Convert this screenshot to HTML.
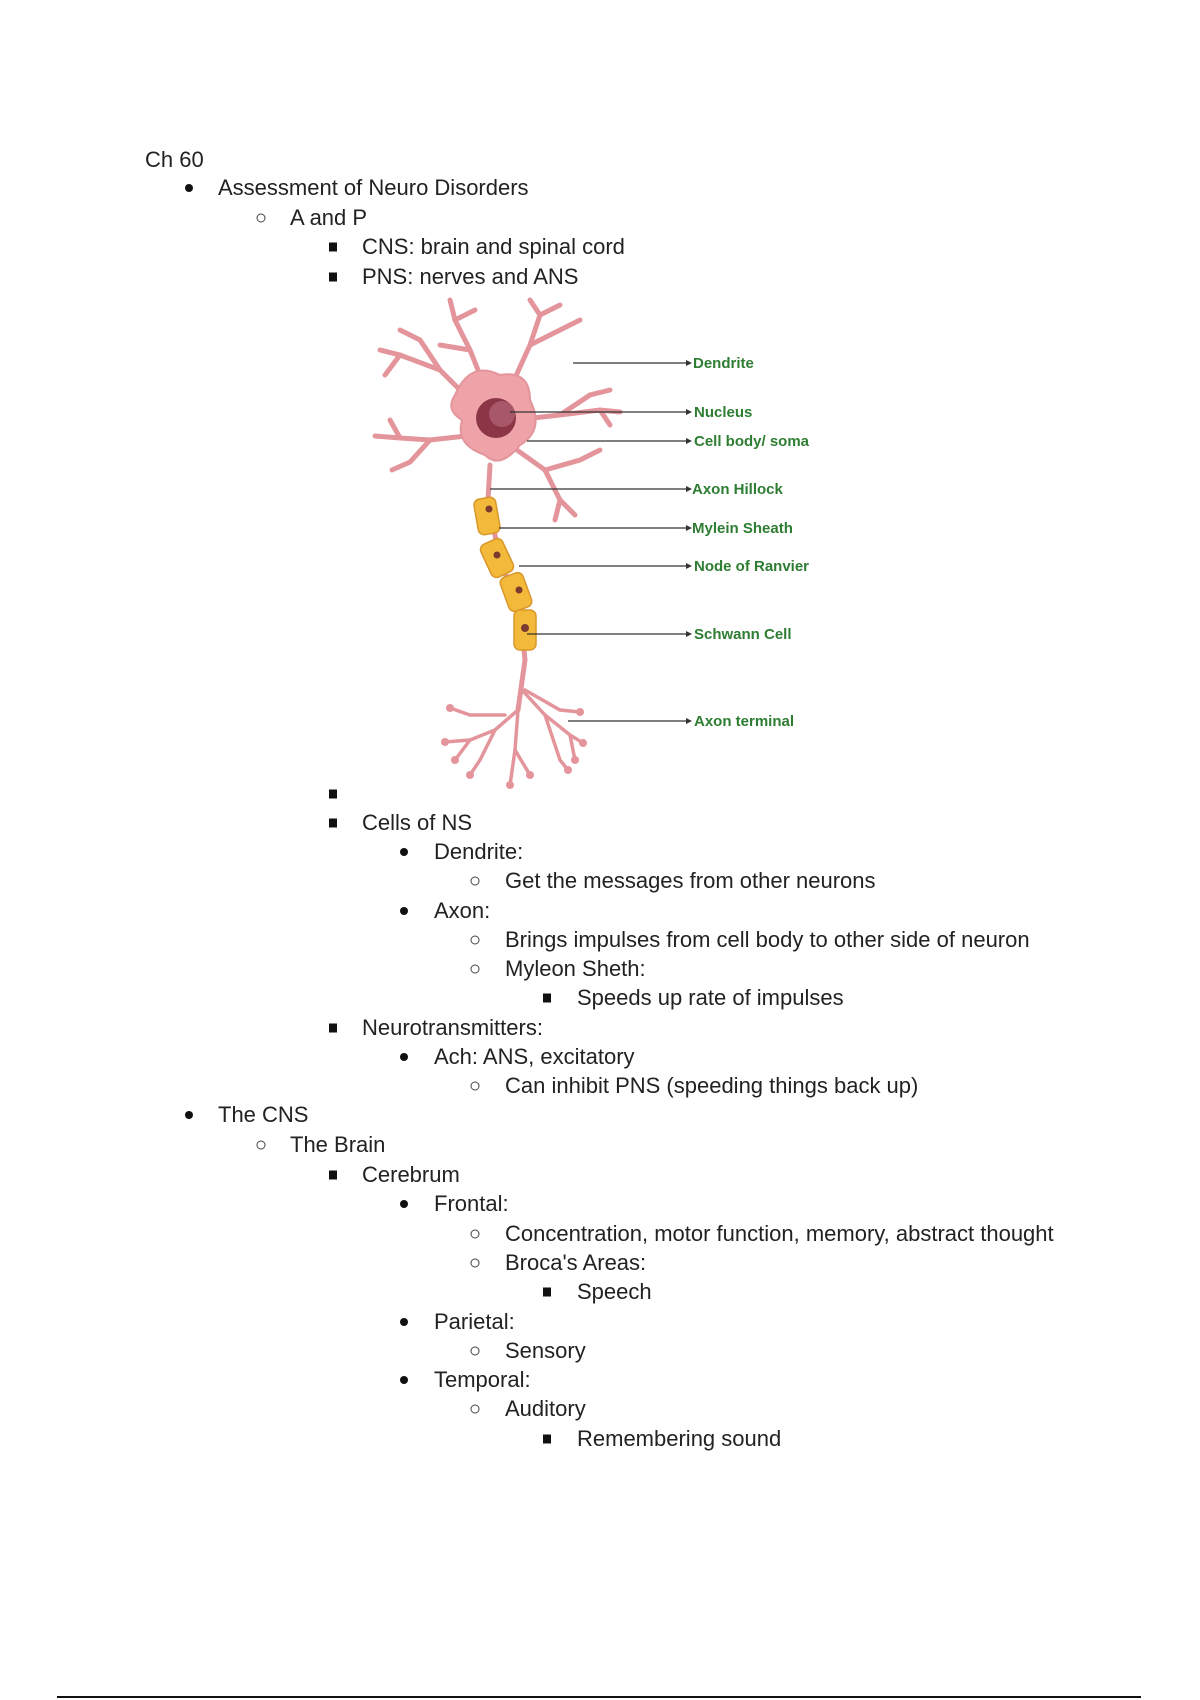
<!DOCTYPE html>
<html><head><meta charset="utf-8"><style>
html,body{margin:0;padding:0;background:#fff;}
body{width:1200px;height:1700px;position:relative;overflow:hidden;font-family:"Liberation Sans",Arial,sans-serif;color:#222;}
.t{position:absolute;font-size:22px;line-height:24px;white-space:nowrap;transform:translateY(-10px);}
.b{position:absolute;transform:translate(-50%,-50%);}
.dot{width:8px;height:8px;border-radius:50%;background:#111;}
.circ{width:7px;height:7px;border-radius:50%;border:1.5px solid #444;}
.sq{width:8px;height:9px;background:#111;}
svg{position:absolute;left:0;top:0;}
</style></head><body>
<div class="t" style="left:145px;top:158px">Ch 60</div>

<div class="b dot" style="left:189px;top:188px"></div><div class="t" style="left:218px;top:186px">Assessment of Neuro Disorders</div>
<div class="b circ" style="left:261px;top:218px"></div><div class="t" style="left:290px;top:216px">A and P</div>
<div class="b sq" style="left:333px;top:247px"></div><div class="t" style="left:362px;top:245px">CNS: brain and spinal cord</div>
<div class="b sq" style="left:333px;top:277px"></div><div class="t" style="left:362px;top:275px">PNS: nerves and ANS</div>

<div class="b sq" style="left:333px;top:794px"></div>
<div class="b sq" style="left:333px;top:823px"></div><div class="t" style="left:362px;top:821px">Cells of NS</div>
<div class="b dot" style="left:404px;top:852px"></div><div class="t" style="left:434px;top:850px">Dendrite:</div>
<div class="b circ" style="left:475px;top:881px"></div><div class="t" style="left:505px;top:879px">Get the messages from other neurons</div>
<div class="b dot" style="left:404px;top:911px"></div><div class="t" style="left:434px;top:909px">Axon:</div>
<div class="b circ" style="left:475px;top:940px"></div><div class="t" style="left:505px;top:938px">Brings impulses from cell body to other side of neuron</div>
<div class="b circ" style="left:475px;top:969px"></div><div class="t" style="left:505px;top:967px">Myleon Sheth:</div>
<div class="b sq" style="left:547px;top:998px"></div><div class="t" style="left:577px;top:996px">Speeds up rate of impulses</div>
<div class="b sq" style="left:333px;top:1028px"></div><div class="t" style="left:362px;top:1026px">Neurotransmitters:</div>
<div class="b dot" style="left:404px;top:1057px"></div><div class="t" style="left:434px;top:1055px">Ach: ANS, excitatory</div>
<div class="b circ" style="left:475px;top:1086px"></div><div class="t" style="left:505px;top:1084px">Can inhibit PNS (speeding things back up)</div>

<div class="b dot" style="left:189px;top:1115px"></div><div class="t" style="left:218px;top:1113px">The CNS</div>
<div class="b circ" style="left:261px;top:1145px"></div><div class="t" style="left:290px;top:1143px">The Brain</div>
<div class="b sq" style="left:333px;top:1175px"></div><div class="t" style="left:362px;top:1173px">Cerebrum</div>
<div class="b dot" style="left:404px;top:1204px"></div><div class="t" style="left:434px;top:1202px">Frontal:</div>
<div class="b circ" style="left:475px;top:1234px"></div><div class="t" style="left:505px;top:1232px">Concentration, motor function, memory, abstract thought</div>
<div class="b circ" style="left:475px;top:1263px"></div><div class="t" style="left:505px;top:1261px">Broca's Areas:</div>
<div class="b sq" style="left:547px;top:1292px"></div><div class="t" style="left:577px;top:1290px">Speech</div>
<div class="b dot" style="left:404px;top:1322px"></div><div class="t" style="left:434px;top:1320px">Parietal:</div>
<div class="b circ" style="left:475px;top:1351px"></div><div class="t" style="left:505px;top:1349px">Sensory</div>
<div class="b dot" style="left:404px;top:1380px"></div><div class="t" style="left:434px;top:1378px">Temporal:</div>
<div class="b circ" style="left:475px;top:1409px"></div><div class="t" style="left:505px;top:1407px">Auditory</div>
<div class="b sq" style="left:547px;top:1439px"></div><div class="t" style="left:577px;top:1437px">Remembering sound</div>

<div style="position:absolute;left:57px;top:1696px;width:1084px;height:2px;background:#111"></div>

<svg width="1200" height="1700" viewBox="0 0 1200 1700">
<g stroke="#e4959b" stroke-linecap="round" fill="none">
 <g stroke-width="5">
  <path d="M480 410 L440 370 L400 355 L380 350"/><path d="M440 370 L420 340 L400 330"/><path d="M400 355 L385 375"/>
  <path d="M475 435 L430 440 L400 438 L375 436"/><path d="M430 440 L410 462 L392 470"/><path d="M400 438 L390 420"/>
  <path d="M490 400 L470 350 L455 320 L450 300"/><path d="M470 350 L440 345"/><path d="M455 320 L475 310"/>
  <path d="M505 400 L530 345 L540 315 L530 300"/><path d="M530 345 L560 330 L580 320"/><path d="M540 315 L560 305"/>
  <path d="M515 420 L560 415 L600 410 L620 412"/><path d="M560 415 L590 395 L610 390"/><path d="M600 410 L610 425"/>
  <path d="M510 445 L545 470 L560 500 L555 520"/><path d="M545 470 L580 460 L600 450"/><path d="M560 500 L575 515"/>
 </g>
 <path d="M490 465 L488 500 L500 560 L520 610 L525 660 L518 710" stroke-width="5"/>
 <g stroke-width="3.5">
  <path d="M518 710 L495 730 L470 740 L445 742"/><path d="M495 730 L480 760 L470 775"/><path d="M470 740 L455 760"/>
  <path d="M518 710 L515 750 L510 785"/><path d="M515 750 L530 775"/>
  <path d="M522 690 L545 715 L570 735 L583 743"/><path d="M545 715 L560 760 L568 770"/><path d="M570 735 L575 760"/>
  <path d="M525 690 L560 710 L580 712"/>
  <path d="M505 715 L470 715 L450 708"/>
 </g>
</g>
<g fill="#e4959b">
 <circle cx="445" cy="742" r="4"/><circle cx="470" cy="775" r="4"/><circle cx="455" cy="760" r="4"/><circle cx="510" cy="785" r="4"/><circle cx="530" cy="775" r="4"/><circle cx="583" cy="743" r="4"/><circle cx="568" cy="770" r="4"/><circle cx="575" cy="760" r="4"/><circle cx="580" cy="712" r="4"/><circle cx="450" cy="708" r="4"/>
</g>
<path d="M455 395 Q470 360 500 375 Q530 370 530 400 Q545 430 520 445 Q500 470 485 455 Q455 445 462 420 Q445 410 455 395Z" fill="#eea3a8" stroke="#e4959b" stroke-width="2"/>
<circle cx="496" cy="418" r="20" fill="#8c3546"/>
<circle cx="502" cy="414" r="13" fill="#a8566a"/>
<g fill="#f3b93a" stroke="#d9972a" stroke-width="1.5">
 <rect x="476" y="498" width="22" height="36" rx="6" transform="rotate(-10 487 516)"/>
 <rect x="485" y="540" width="24" height="36" rx="6" transform="rotate(-25 497 558)"/>
 <rect x="504" y="574" width="24" height="36" rx="6" transform="rotate(-20 516 592)"/>
 <rect x="514" y="610" width="22" height="40" rx="6"/>
</g>
<g fill="#7a3a30"><circle cx="489" cy="509" r="3.5"/><circle cx="497" cy="555" r="3.5"/><circle cx="519" cy="590" r="3.5"/><circle cx="525" cy="628" r="4"/></g>
<g stroke="#333" stroke-width="1.2" fill="none">
 <path d="M573 363 H688"/><path d="M510 412 H688"/><path d="M527 441 H688"/><path d="M490 489 H688"/><path d="M499 528 H688"/><path d="M519 566 H688"/><path d="M527 634 H688"/><path d="M568 721 H688"/>
</g>
<g fill="#333">
 <path d="M692 363 l-6 -3 v6z"/><path d="M692 412 l-6 -3 v6z"/><path d="M692 441 l-6 -3 v6z"/><path d="M692 489 l-6 -3 v6z"/><path d="M692 528 l-6 -3 v6z"/><path d="M692 566 l-6 -3 v6z"/><path d="M692 634 l-6 -3 v6z"/><path d="M692 721 l-6 -3 v6z"/>
</g>
<g fill="#2e7d32" font-family="Liberation Sans, Arial, sans-serif" font-weight="bold" font-size="15">
 <text x="693" y="368">Dendrite</text>
 <text x="694" y="417">Nucleus</text>
 <text x="694" y="446">Cell body/ soma</text>
 <text x="692" y="494">Axon Hillock</text>
 <text x="692" y="533">Mylein Sheath</text>
 <text x="694" y="571">Node of Ranvier</text>
 <text x="694" y="639">Schwann Cell</text>
 <text x="694" y="726">Axon terminal</text>
</g>
</svg>
</body></html>
